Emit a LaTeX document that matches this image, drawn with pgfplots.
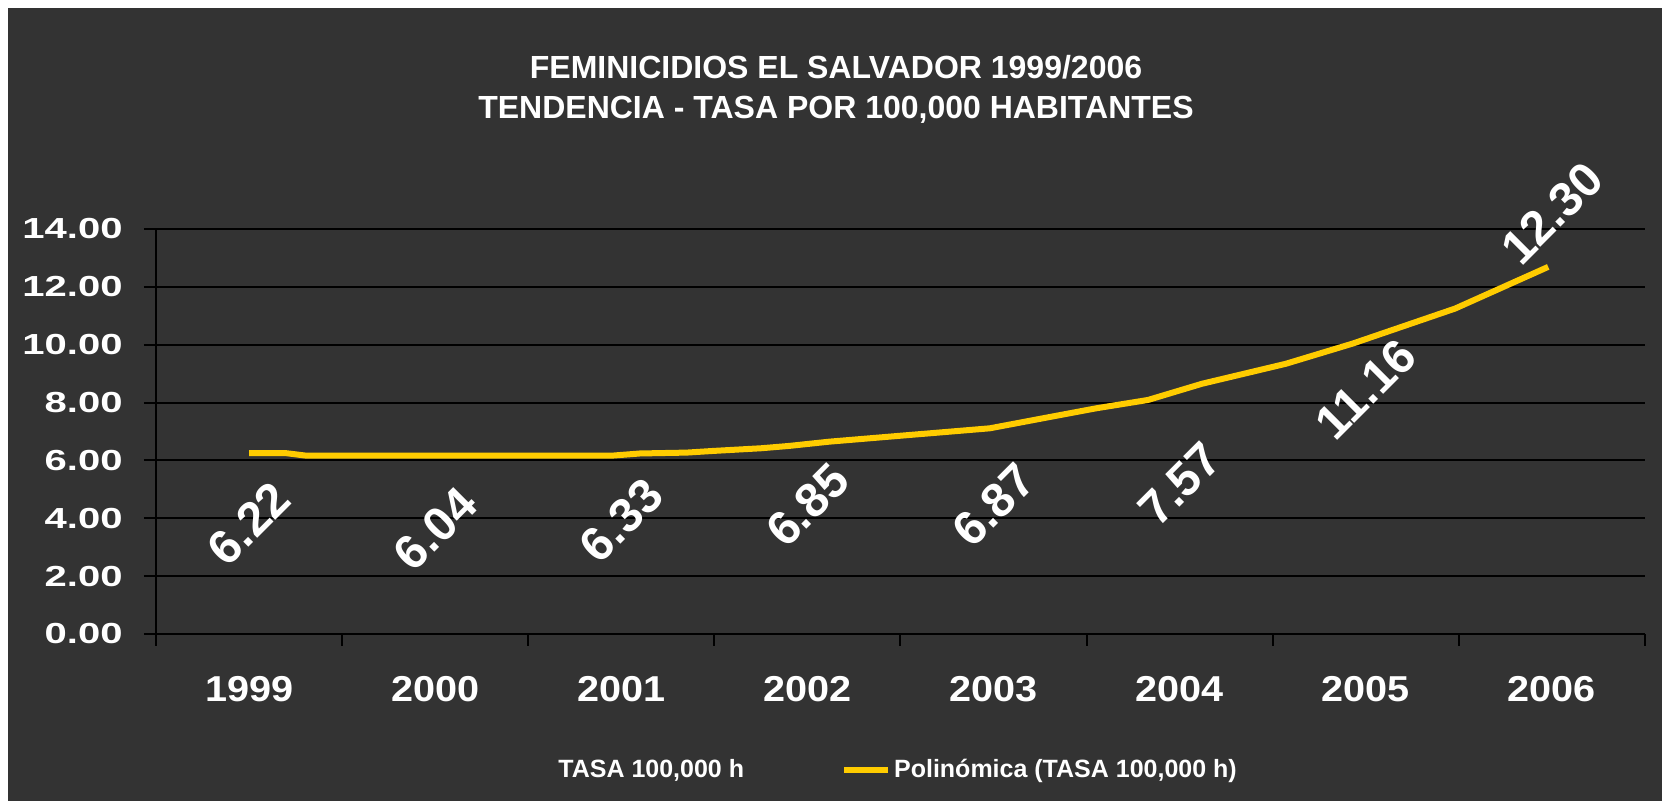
\documentclass[border=0pt]{standalone}
\usepackage{pgfplots}
\pgfplotsset{compat=1.18}
\usepackage{fontspec}
\setmainfont{Liberation Sans}
\newfontfamily\widefont[FakeStretch=1.38]{Liberation Sans}
\newfontfamily\yearfont[FakeStretch=1.1]{Liberation Sans}
\definecolor{bgdark}{HTML}{333333}
\definecolor{trend}{HTML}{FFCC00}

% tasa por 100,000 habitantes
\pgfplotstableread{
x  tasa
0  6.22
1  6.04
2  6.33
3  6.85
4  6.87
5  7.57
6  11.16
}\tasa
% polinomica
\pgfplotstableread{
x     y
0     6.25
0.2   6.25
0.3   6.17
1     6.17
1.96  6.17
2.1   6.24
2.35  6.27
2.5   6.33
2.75  6.42
2.9   6.50
3.12  6.65
3.55  6.88
3.98  7.11
4.26  7.45
4.55  7.80
4.83  8.09
5.12  8.65
5.57  9.34
5.93  10.04
6.48  11.25
6.98  12.69
}\trendline

\pgfplotsset{
    tasalabel/.style={nodes near coords={\rotatebox{45}{\pgfmathprintnumber[fixed,fixed zerofill,precision=2,assume math mode=true]{\pgfplotspointmeta}}},
        every node near coord/.append style={inner sep=0pt, text=white,
            font=\fontsize{24}{25}\selectfont\bfseries}},
}

\begin{document}
\begin{tikzpicture}
\path[use as bounding box] (-78pt,-83.5pt) rectangle (753pt,317pt);
\fill[white] (-78pt,-83.5pt) rectangle (753pt,317pt);
\fill[bgdark] (-74pt,-83.5pt) rectangle (753pt,313pt);
\begin{axis}[
    at={(0,0)}, anchor=south west,
    scale only axis, width=744.5pt, height=202.5pt,
    xmin=-0.5, xmax=7.5, ymin=0, ymax=14,
    axis lines*=left,
    axis line style={black, line width=1pt},
    tick align=outside,
    major tick length=6pt,
    tick style={black, line width=1pt},
    xtick={-0.5,0.5,...,7.5},
    xticklabels={},
    extra x ticks={0,1,...,7},
    extra x tick labels={1999,2000,2001,2002,2003,2004,2005,2006},
    extra x tick style={major tick length=0pt,
        xticklabel style={font=\yearfont\fontsize{18}{20}\selectfont\bfseries,
            text=white, anchor=north, inner sep=0pt, yshift=-21pt}},
    ytick={0,2,...,14},
    yticklabel style={font=\widefont\fontsize{14.5}{16}\selectfont\bfseries,
        text=white, anchor=east, inner sep=0pt, xshift=-10.5pt},
    /pgf/number format/.cd, fixed, fixed zerofill, precision=2, assume math mode=true,
    /pgfplots/.cd,
    ymajorgrids,
    grid style={black, line width=1pt},
    title={FEMINICIDIOS EL SALVADOR 1999/2006\\TENDENCIA - TASA POR 100,000 HABITANTES},
    title style={at={(0.4567,1.23)}, anchor=south, align=center,
        font=\fontsize{16}{20}\selectfont\bfseries, text=white, inner sep=0pt},
    legend columns=2,
    legend image code/.code={\draw[#1] (0pt,0pt) -- (22pt,0pt);},
    legend style={at={(0.2384,-0.336)}, anchor=west, draw=none, fill=none,
        inner sep=0pt, text=white,
        font=\fontsize{12.5}{14}\selectfont\bfseries,
        nodes={inner sep=1.5pt},
        /tikz/every even column/.append style={column sep=47pt}},
]
\addplot[draw=none, mark=none, tasalabel,
    every node near coord/.append style={anchor=north, yshift=-12pt},
    legend image code/.code={\path (0pt,0pt) -- (22pt,0pt);}]
    table[x=x, y=tasa] {\tasa};
\addlegendentry{TASA 100,000 h}
\addplot[trend, line width=3pt, line join=round, mark=none] table[x=x, y=y] {\trendline};
\addlegendentry{Polinómica (TASA 100,000 h)}
\addplot[draw=none, mark=none, forget plot, tasalabel,
    every node near coord/.append style={anchor=south, yshift=5pt}]
    coordinates {(7,12.30)};
\end{axis}
\end{tikzpicture}
\end{document}
